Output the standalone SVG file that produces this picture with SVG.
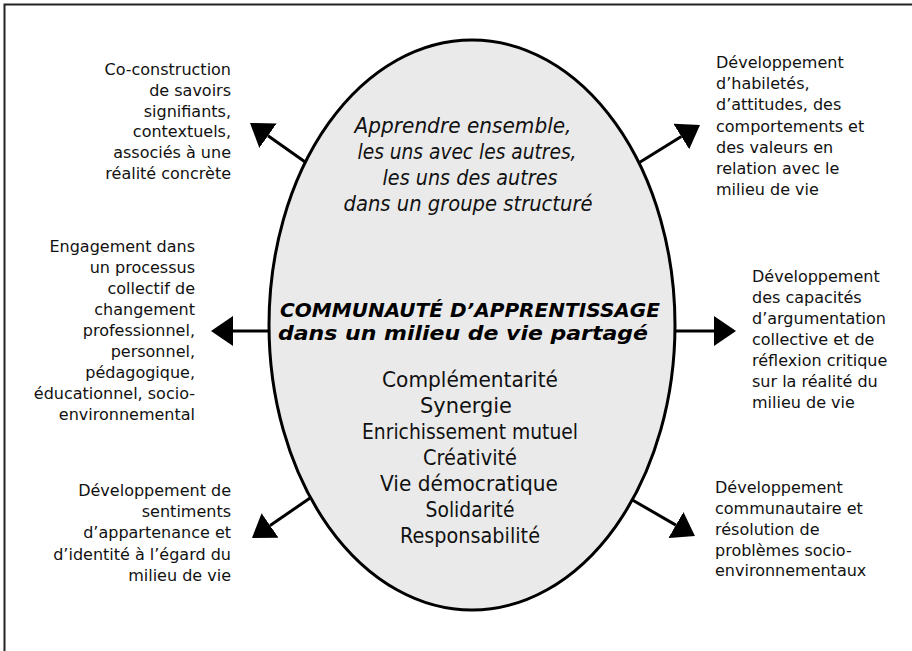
<svg xmlns="http://www.w3.org/2000/svg" width="912" height="651" viewBox="0 0 912 651">
<style>
.side{font-family:"DejaVu Sans","Liberation Sans",sans-serif;font-size:16px;fill:#111}
.r{text-anchor:end}
.l{text-anchor:start}
.inner{font-family:"DejaVu Sans","Liberation Sans",sans-serif;font-size:21px;fill:#111;text-anchor:middle}
.it{font-style:italic}
.title{font-family:"DejaVu Sans","Liberation Sans",sans-serif;font-size:19px;font-weight:bold;font-style:italic;fill:#000;text-anchor:middle}
.conn{stroke:#000;stroke-width:3;fill:none;marker-end:url(#head)}
</style>
<defs>
<marker id="head" markerUnits="userSpaceOnUse" markerWidth="22" markerHeight="30" viewBox="0 0 22 30" refX="0" refY="15" orient="auto">
<path d="M0,0 L22,15 L0,30 z" fill="#000"/>
</marker>
</defs>
<rect x="0" y="0" width="912" height="651" fill="#fff"/>
<path d="M4.5,651 V4.5 H912" fill="none" stroke="#222" stroke-width="2"/>
<g id="connectors">
<line class="conn" x1="308" y1="164" x2="268" y2="135.7"/>
<line class="conn" x1="637" y1="164" x2="681.3" y2="136.5"/>
<line class="conn" x1="274" y1="331" x2="233" y2="331"/>
<line class="conn" x1="671" y1="331" x2="714" y2="331"/>
<line class="conn" x1="313" y1="496" x2="270.1" y2="525.5"/>
<line class="conn" x1="629" y1="498" x2="675.9" y2="525.1"/>
</g>
<g id="center">
<ellipse cx="472" cy="325" rx="203" ry="285" fill="#eaeaea" stroke="#000" stroke-width="3"/>
<text class="inner it" x="463" y="133" textLength="217" lengthAdjust="spacingAndGlyphs">Apprendre ensemble,</text>
<text class="inner it" x="467" y="159" textLength="219" lengthAdjust="spacingAndGlyphs">les uns avec les autres,</text>
<text class="inner it" x="470" y="185" textLength="175" lengthAdjust="spacingAndGlyphs">les uns des autres</text>
<text class="inner it" x="468" y="211" textLength="249" lengthAdjust="spacingAndGlyphs">dans un groupe structuré</text>
<text class="title" x="470" y="317" textLength="380" lengthAdjust="spacingAndGlyphs">COMMUNAUTÉ D’APPRENTISSAGE</text>
<text class="title" x="463" y="340" textLength="370" lengthAdjust="spacingAndGlyphs">dans un milieu de vie partagé</text>
<text class="inner" x="470" y="387" textLength="176" lengthAdjust="spacingAndGlyphs">Complémentarité</text>
<text class="inner" x="466" y="413" textLength="92" lengthAdjust="spacingAndGlyphs">Synergie</text>
<text class="inner" x="470" y="439" textLength="216" lengthAdjust="spacingAndGlyphs">Enrichissement mutuel</text>
<text class="inner" x="470" y="465" textLength="94" lengthAdjust="spacingAndGlyphs">Créativité</text>
<text class="inner" x="469" y="491" textLength="178" lengthAdjust="spacingAndGlyphs">Vie démocratique</text>
<text class="inner" x="470" y="517" textLength="89" lengthAdjust="spacingAndGlyphs">Solidarité</text>
<text class="inner" x="470" y="543" textLength="140" lengthAdjust="spacingAndGlyphs">Responsabilité</text>
</g>
<g id="n-top-left">
<text class="side r" x="231" y="75">Co-construction</text>
<text class="side r" x="231" y="96">de savoirs</text>
<text class="side r" x="231" y="117">signifiants,</text>
<text class="side r" x="231" y="137">contextuels,</text>
<text class="side r" x="231" y="158">associés à une</text>
<text class="side r" x="231" y="179">réalité concrète</text>
</g>
<g id="n-mid-left">
<text class="side r" x="195" y="252">Engagement dans</text>
<text class="side r" x="195" y="273">un processus</text>
<text class="side r" x="195" y="294">collectif de</text>
<text class="side r" x="195" y="315">changement</text>
<text class="side r" x="195" y="336">professionnel,</text>
<text class="side r" x="195" y="357">personnel,</text>
<text class="side r" x="195" y="378">pédagogique,</text>
<text class="side r" x="195" y="399">éducationnel, socio-</text>
<text class="side r" x="195" y="420">environnemental</text>
</g>
<g id="n-bottom-left">
<text class="side r" x="231" y="496">Développement de</text>
<text class="side r" x="231" y="517">sentiments</text>
<text class="side r" x="231" y="538">d’appartenance et</text>
<text class="side r" x="231" y="560">d’identité à l’égard du</text>
<text class="side r" x="231" y="581">milieu de vie</text>
</g>
<g id="n-top-right">
<text class="side l" x="716" y="68">Développement</text>
<text class="side l" x="716" y="89">d’habiletés,</text>
<text class="side l" x="716" y="110">d’attitudes, des</text>
<text class="side l" x="716" y="132">comportements et</text>
<text class="side l" x="716" y="153">des valeurs en</text>
<text class="side l" x="716" y="174">relation avec le</text>
<text class="side l" x="716" y="195">milieu de vie</text>
</g>
<g id="n-mid-right">
<text class="side l" x="752" y="282">Développement</text>
<text class="side l" x="752" y="303">des capacités</text>
<text class="side l" x="752" y="324">d’argumentation</text>
<text class="side l" x="752" y="345">collective et de</text>
<text class="side l" x="752" y="366">réflexion critique</text>
<text class="side l" x="752" y="387">sur la réalité du</text>
<text class="side l" x="752" y="408">milieu de vie</text>
</g>
<g id="n-bottom-right">
<text class="side l" x="715" y="493">Développement</text>
<text class="side l" x="715" y="514">communautaire et</text>
<text class="side l" x="715" y="535">résolution de</text>
<text class="side l" x="715" y="556">problèmes socio-</text>
<text class="side l" x="715" y="576">environnementaux</text>
</g>
</svg>
